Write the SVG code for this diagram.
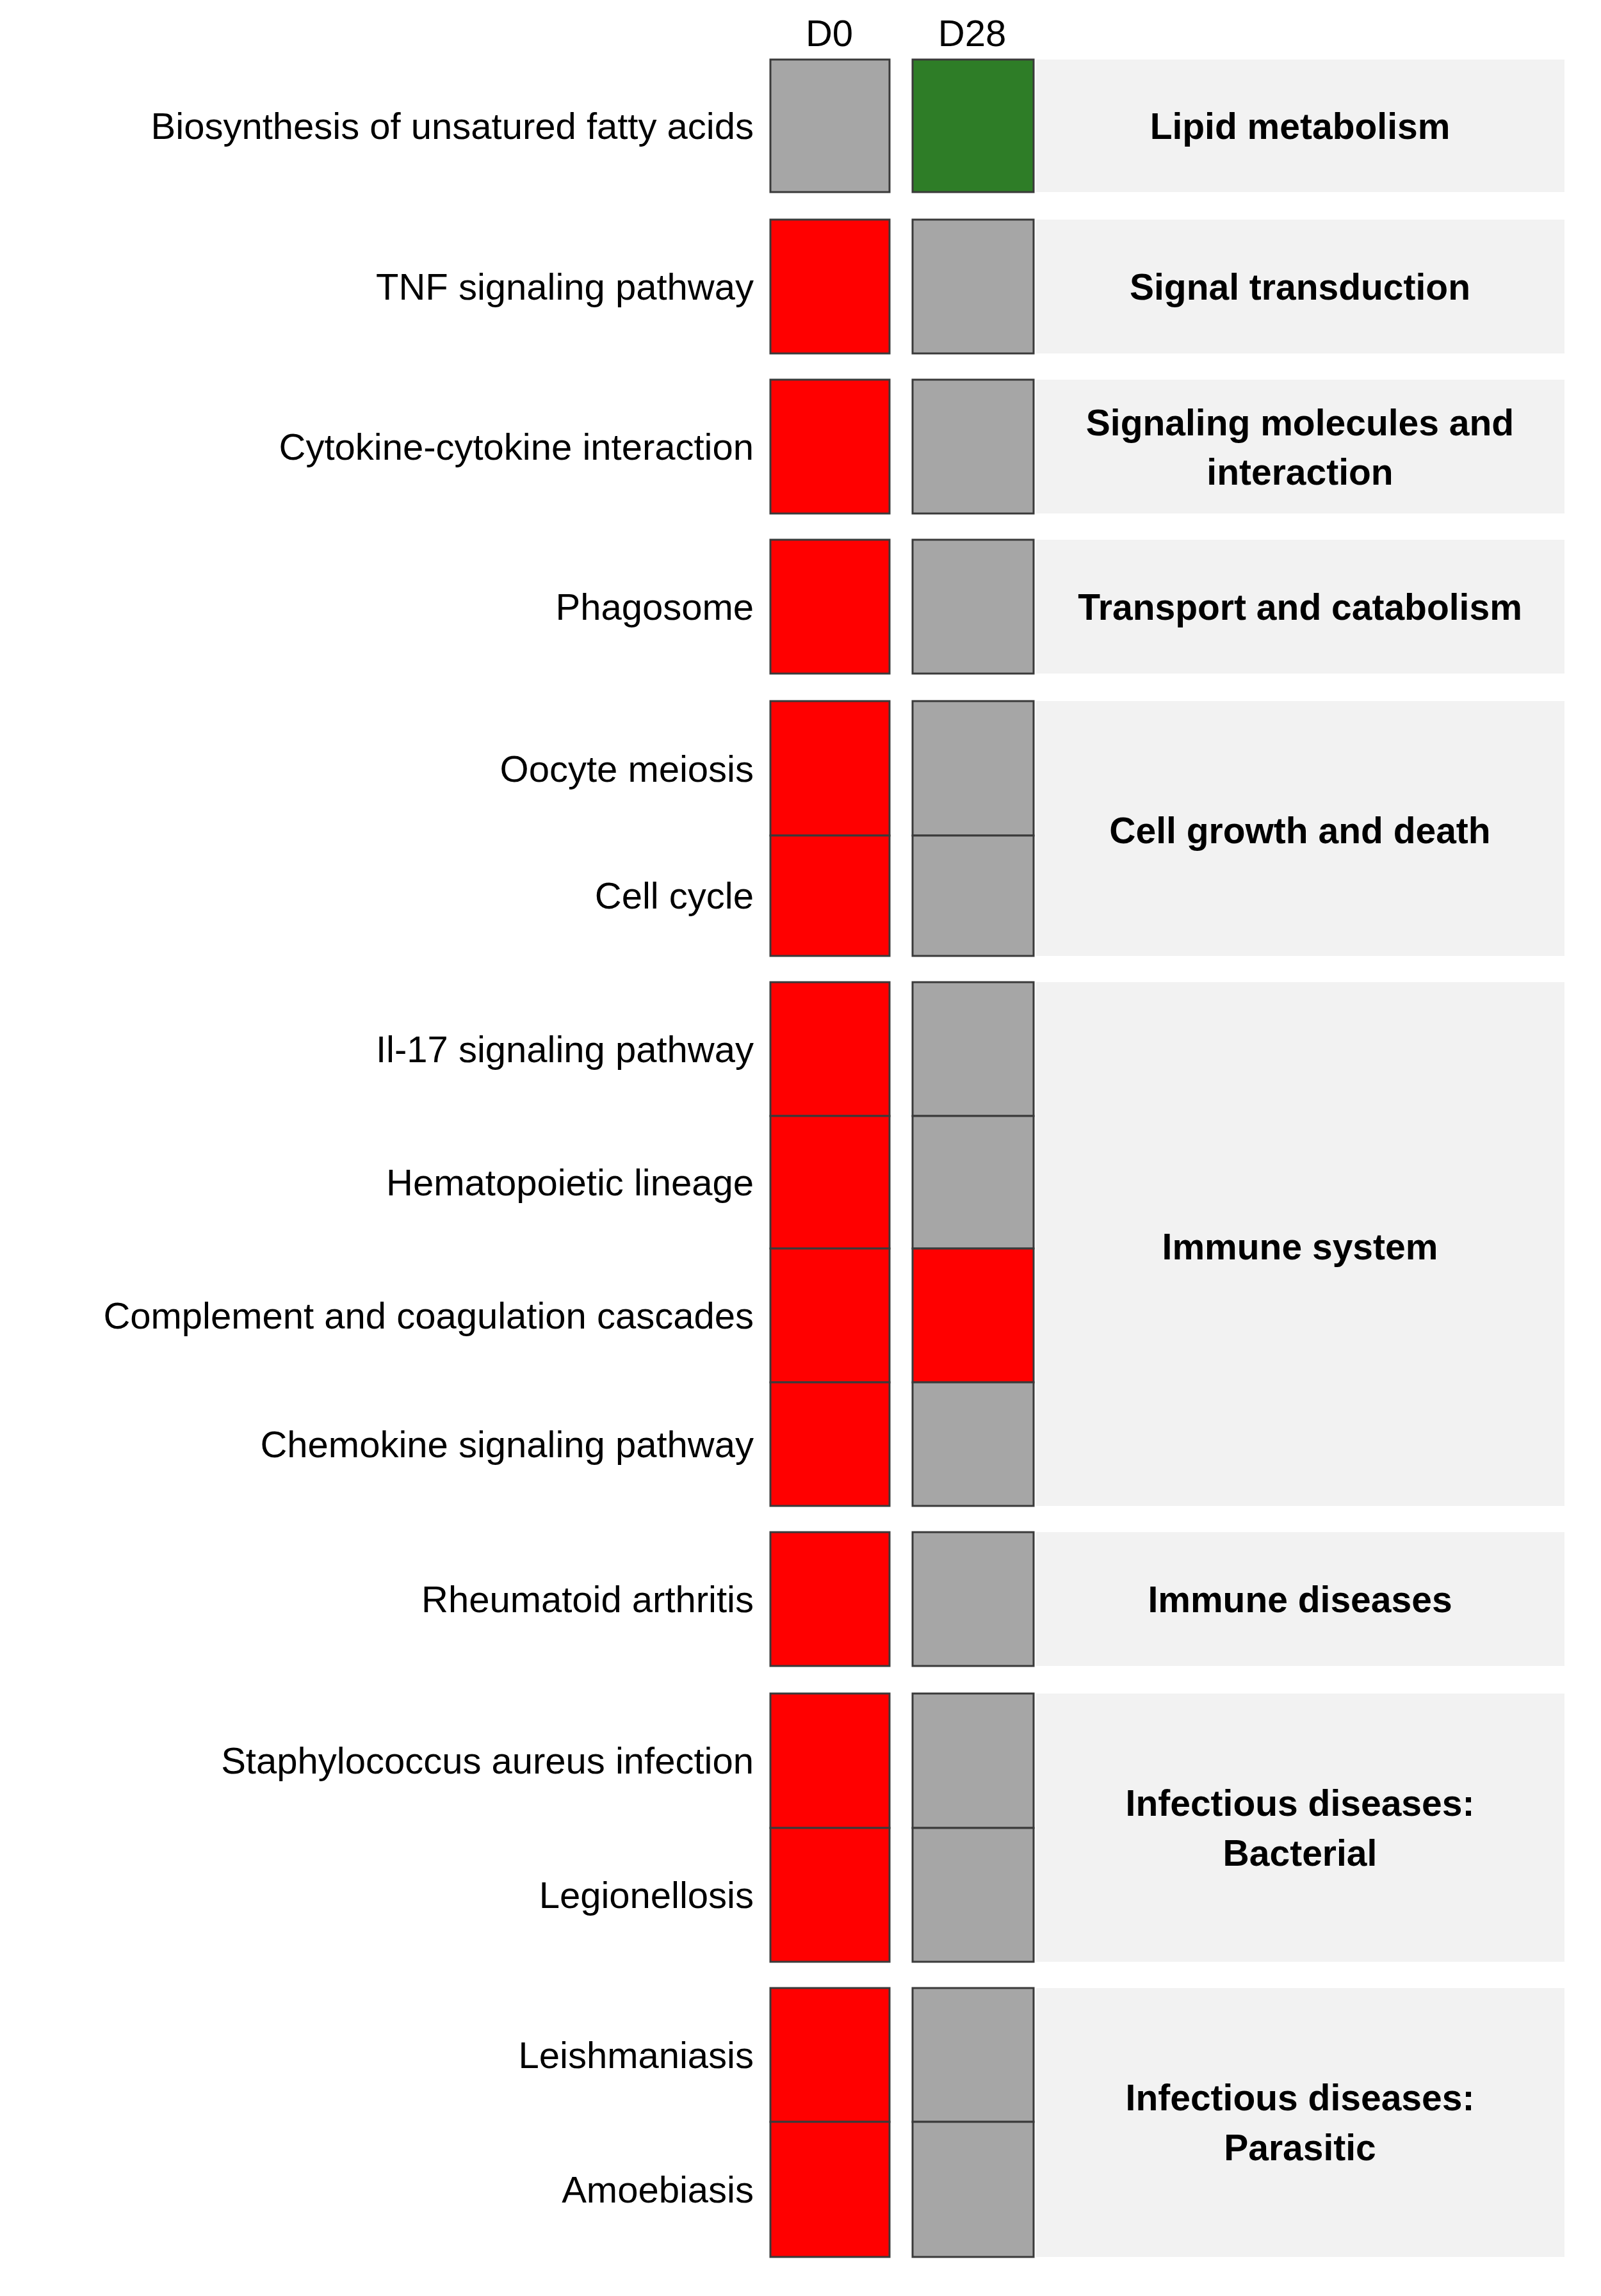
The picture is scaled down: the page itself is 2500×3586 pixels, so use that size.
<svg xmlns="http://www.w3.org/2000/svg" width="2500" height="3586" viewBox="0 0 2500 3586">
<style>
text{font-family:"Liberation Sans",Arial,sans-serif;fill:#000}
.l{font-size:58px;text-anchor:end}
.h{font-size:58px;text-anchor:middle}
.c{font-size:57px;font-weight:bold;text-anchor:middle}
.p{fill:#f2f2f2}
.g{fill:#a6a6a6;stroke:#3a3a3a;stroke-width:3}
.r{fill:#ff0000;stroke:#3a3a3a;stroke-width:3}
.gr{fill:#2e7d27;stroke:#3a3a3a;stroke-width:3}
</style>
<rect width="2500" height="3586" fill="#fff"/>
<text class="h" x="1295" y="72">D0</text>
<text class="h" x="1518" y="72">D28</text>
<g id="lipid">
<rect class="p" x="1618" y="93" width="825" height="207"/>
<rect class="g" x="1203" y="93" width="186" height="207"/><rect class="gr" x="1425" y="93" width="189" height="207"/>
<text class="l" x="1177" y="217">Biosynthesis of unsatured fatty acids</text>
<text class="c" x="2030" y="217">Lipid metabolism</text>
</g>
<g id="signal">
<rect class="p" x="1618" y="343" width="825" height="209"/>
<rect class="r" x="1203" y="343" width="186" height="209"/><rect class="g" x="1425" y="343" width="189" height="209"/>
<text class="l" x="1177" y="468">TNF signaling pathway</text>
<text class="c" x="2030" y="468">Signal transduction</text>
</g>
<g id="molecules">
<rect class="p" x="1618" y="593" width="825" height="209"/>
<rect class="r" x="1203" y="593" width="186" height="209"/><rect class="g" x="1425" y="593" width="189" height="209"/>
<text class="l" x="1177" y="718">Cytokine-cytokine interaction</text>
<text class="c" x="2030" y="680">Signaling molecules and</text>
<text class="c" x="2030" y="757">interaction</text>
</g>
<g id="transport">
<rect class="p" x="1618" y="843" width="825" height="209"/>
<rect class="r" x="1203" y="843" width="186" height="209"/><rect class="g" x="1425" y="843" width="189" height="209"/>
<text class="l" x="1177" y="968">Phagosome</text>
<text class="c" x="2030" y="968">Transport and catabolism</text>
</g>
<g id="cellgrowth">
<rect class="p" x="1618" y="1095" width="825" height="398"/>
<rect class="r" x="1203" y="1095" width="186" height="210"/><rect class="g" x="1425" y="1095" width="189" height="210"/>
<rect class="r" x="1203" y="1305" width="186" height="188"/><rect class="g" x="1425" y="1305" width="189" height="188"/>
<text class="l" x="1177" y="1221">Oocyte meiosis</text>
<text class="l" x="1177" y="1419">Cell cycle</text>
<text class="c" x="2030" y="1317">Cell growth and death</text>
</g>
<g id="immune">
<rect class="p" x="1618" y="1534" width="825" height="818"/>
<rect class="r" x="1203" y="1534" width="186" height="209"/><rect class="g" x="1425" y="1534" width="189" height="209"/>
<rect class="r" x="1203" y="1743" width="186" height="207"/><rect class="g" x="1425" y="1743" width="189" height="207"/>
<rect class="r" x="1203" y="1950" width="186" height="209"/><rect class="r" x="1425" y="1950" width="189" height="209"/>
<rect class="r" x="1203" y="2159" width="186" height="193"/><rect class="g" x="1425" y="2159" width="189" height="193"/>
<text class="l" x="1177" y="1659">Il-17 signaling pathway</text>
<text class="l" x="1177" y="1867">Hematopoietic lineage</text>
<text class="l" x="1177" y="2075">Complement and coagulation cascades</text>
<text class="l" x="1177" y="2276">Chemokine signaling pathway</text>
<text class="c" x="2030" y="1967">Immune system</text>
</g>
<g id="immunediseases">
<rect class="p" x="1618" y="2393" width="825" height="209"/>
<rect class="r" x="1203" y="2393" width="186" height="209"/><rect class="g" x="1425" y="2393" width="189" height="209"/>
<text class="l" x="1177" y="2518">Rheumatoid arthritis</text>
<text class="c" x="2030" y="2518">Immune diseases</text>
</g>
<g id="bacterial">
<rect class="p" x="1618" y="2645" width="825" height="419"/>
<rect class="r" x="1203" y="2645" width="186" height="210"/><rect class="g" x="1425" y="2645" width="189" height="210"/>
<rect class="r" x="1203" y="2855" width="186" height="209"/><rect class="g" x="1425" y="2855" width="189" height="209"/>
<text class="l" x="1177" y="2770">Staphylococcus aureus infection</text>
<text class="l" x="1177" y="2980">Legionellosis</text>
<text class="c" x="2030" y="2836">Infectious diseases:</text>
<text class="c" x="2030" y="2914">Bacterial</text>
</g>
<g id="parasitic">
<rect class="p" x="1618" y="3105" width="825" height="420"/>
<rect class="r" x="1203" y="3105" width="186" height="209"/><rect class="g" x="1425" y="3105" width="189" height="209"/>
<rect class="r" x="1203" y="3314" width="186" height="211"/><rect class="g" x="1425" y="3314" width="189" height="211"/>
<text class="l" x="1177" y="3230">Leishmaniasis</text>
<text class="l" x="1177" y="3440">Amoebiasis</text>
<text class="c" x="2030" y="3296">Infectious diseases:</text>
<text class="c" x="2030" y="3374">Parasitic</text>
</g>
<g id="connectors"/>
</svg>
